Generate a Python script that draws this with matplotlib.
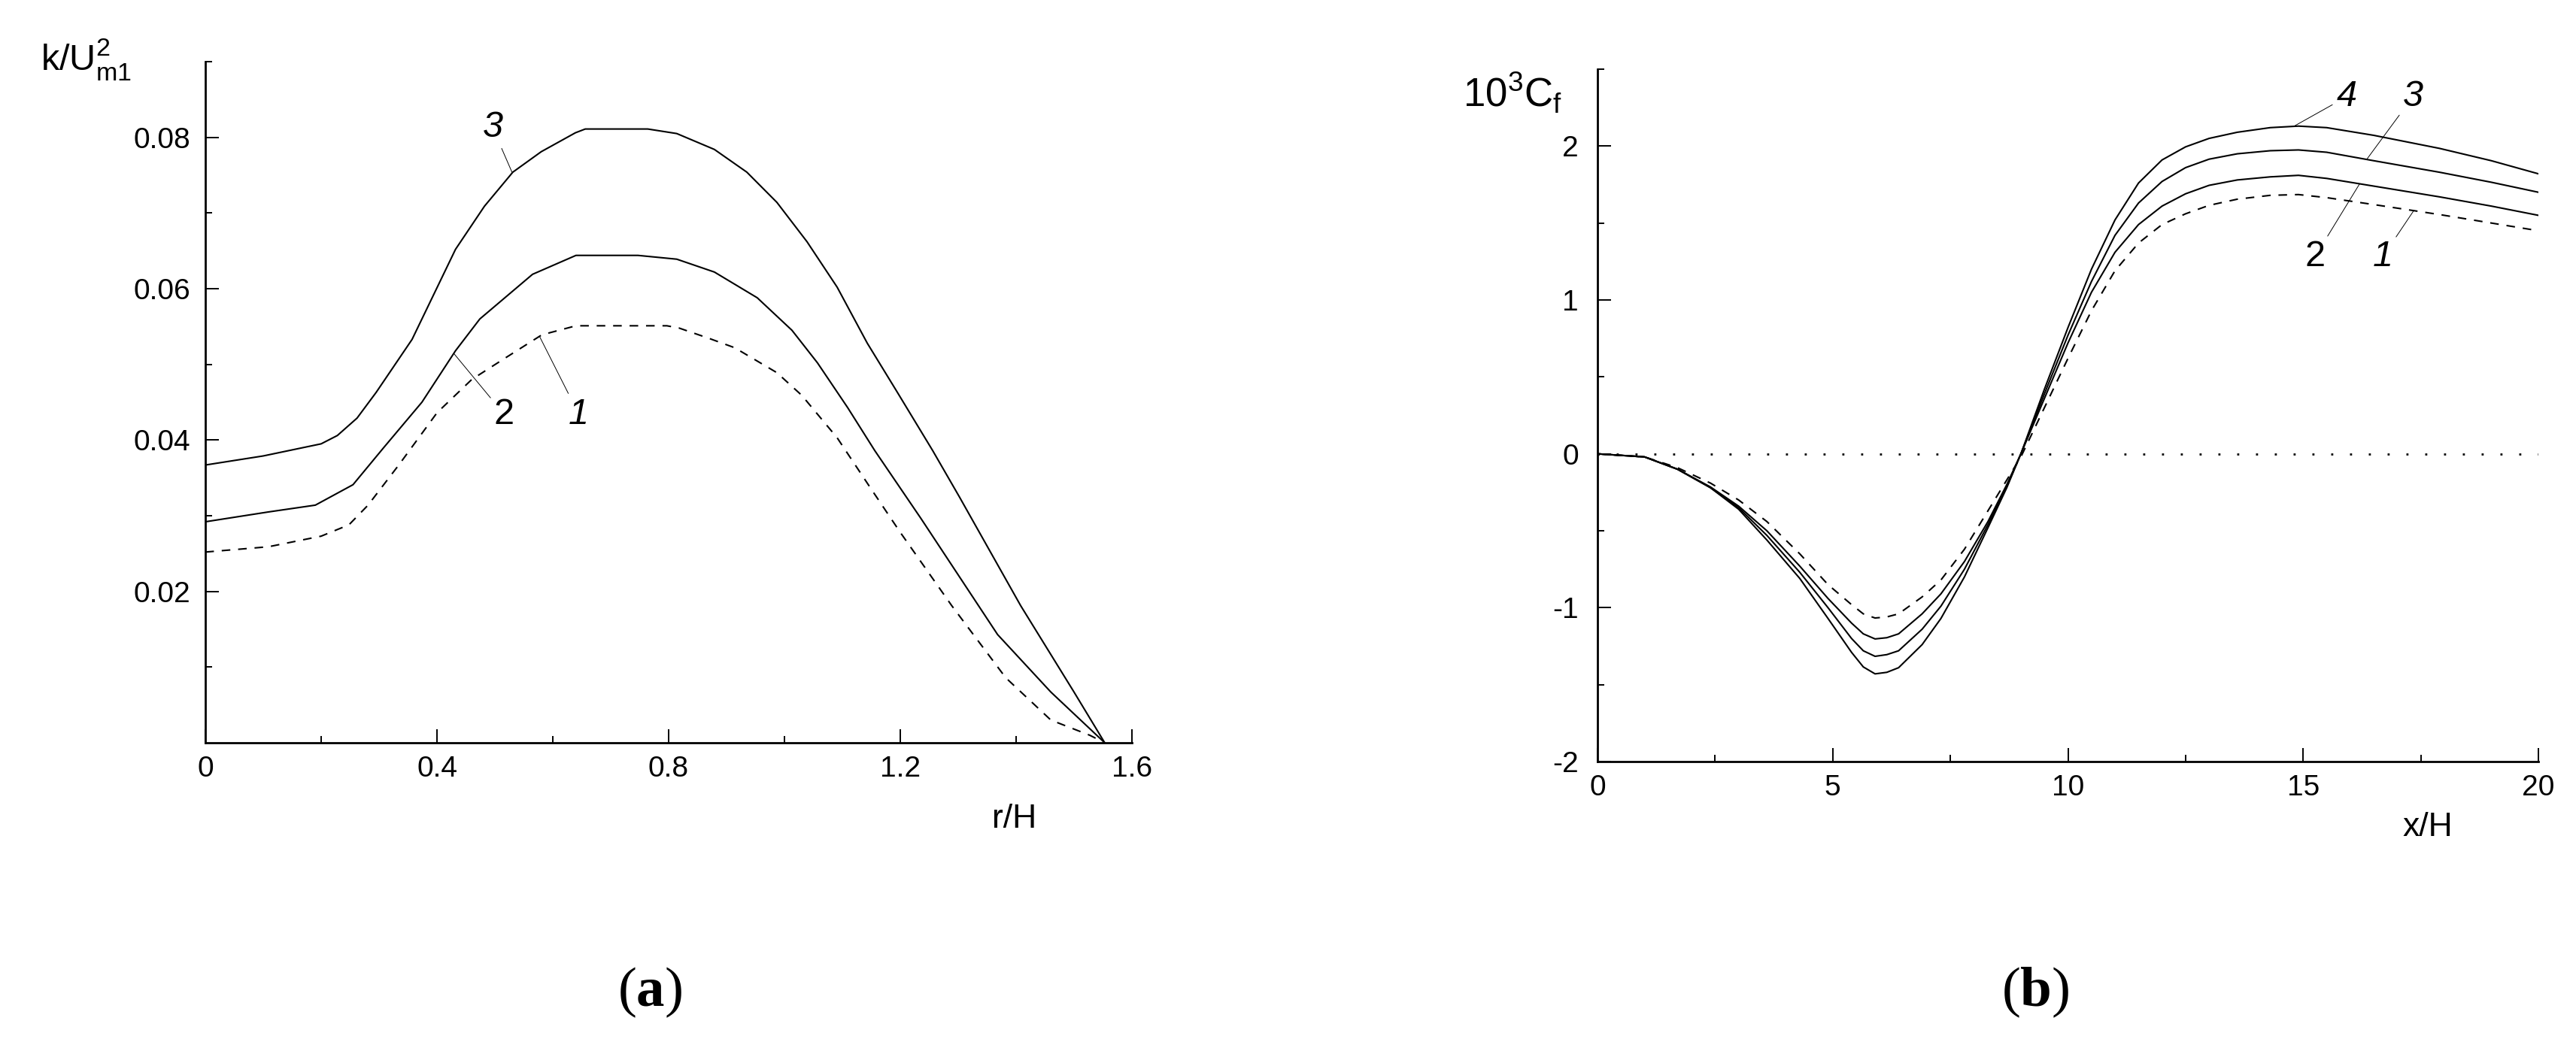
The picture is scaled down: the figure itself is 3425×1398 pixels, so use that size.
import numpy as np
import matplotlib
matplotlib.use('Agg')
import matplotlib.pyplot as plt

# ---- panel (a): k/U^2_m1 against r/H ----
r_1 = [0.0, 0.109, 0.20, 0.248, 0.281, 0.335, 0.40, 0.46, 0.515, 0.581, 0.64, 0.797,
       0.818, 0.871, 0.914, 0.987, 1.03, 1.091, 1.15, 1.20, 1.289, 1.382, 1.46, 1.527, 1.553]
k_1 = [0.0252, 0.0259, 0.0273, 0.0288, 0.0314, 0.0368, 0.0436, 0.0480, 0.0507, 0.0539, 0.0551, 0.0551,
       0.0548, 0.0534, 0.0522, 0.0489, 0.0459, 0.0403, 0.0335, 0.0278, 0.0181, 0.0086, 0.0030, 0.0010, 0.0]

r_2 = [0.0, 0.109, 0.19, 0.255, 0.308, 0.374, 0.432, 0.474, 0.565, 0.64, 0.747, 0.814,
       0.879, 0.953, 1.013, 1.057, 1.109, 1.156, 1.236, 1.368, 1.46, 1.553]
k_2 = [0.0292, 0.0305, 0.0314, 0.0341, 0.0390, 0.0450, 0.0518, 0.0560, 0.0619, 0.0644, 0.0644, 0.0639,
       0.0622, 0.0588, 0.0545, 0.0502, 0.0443, 0.0386, 0.0296, 0.0143, 0.0067, 0.0]

r_3 = [0.0, 0.1, 0.2, 0.228, 0.262, 0.295, 0.357, 0.432, 0.482, 0.531, 0.58, 0.639, 0.656,
       0.764, 0.814, 0.879, 0.935, 0.987, 1.039, 1.091, 1.143, 1.195, 1.256, 1.302, 1.408, 1.50, 1.553]
k_3 = [0.0367, 0.0379, 0.0395, 0.0406, 0.0429, 0.0463, 0.0533, 0.0652, 0.0709, 0.0754, 0.0781, 0.0806, 0.0811,
       0.0811, 0.0805, 0.0784, 0.0754, 0.0714, 0.0662, 0.0602, 0.0528, 0.0463, 0.0386, 0.0325, 0.0181, 0.0067, 0.0]

# ---- panel (b): 10^3 Cf against x/H ----
x_b = [0, 1.0, 1.7, 2.4, 3.0, 3.6, 4.3, 4.9, 5.4, 5.65, 5.9, 6.15, 6.4, 6.9, 7.3, 7.8, 8.3, 8.7,
       9.0, 9.5, 10.0, 10.5, 11.0, 11.5, 12.0, 12.5, 13.0, 13.6, 14.3, 14.9, 15.5, 16.5, 17.9, 19.0, 20.0]
cf_1 = [0, -0.02, -0.09, -0.19, -0.30, -0.44, -0.65, -0.85, -0.98, -1.04, -1.067, -1.06, -1.04, -0.93, -0.82,
        -0.62, -0.37, -0.17, -0.02, 0.30, 0.62, 0.93, 1.19, 1.37, 1.49, 1.56, 1.615, 1.655, 1.68, 1.685,
        1.665, 1.62, 1.555, 1.50, 1.45]
cf_2 = [0, -0.02, -0.10, -0.215, -0.34, -0.50, -0.73, -0.94, -1.10, -1.17, -1.203, -1.195, -1.17, -1.04, -0.91,
        -0.70, -0.44, -0.20, 0.0, 0.36, 0.72, 1.05, 1.31, 1.49, 1.61, 1.69, 1.745, 1.78, 1.80, 1.81,
        1.79, 1.74, 1.67, 1.61, 1.55]
cf_3 = [0, -0.02, -0.10, -0.22, -0.35, -0.53, -0.77, -1.00, -1.20, -1.28, -1.316, -1.305, -1.28, -1.14, -0.99,
        -0.75, -0.46, -0.21, 0.0, 0.39, 0.77, 1.12, 1.42, 1.63, 1.77, 1.86, 1.915, 1.95, 1.97, 1.975,
        1.96, 1.905, 1.83, 1.765, 1.70]
cf_4 = [0, -0.02, -0.10, -0.22, -0.36, -0.56, -0.81, -1.07, -1.29, -1.385, -1.43, -1.42, -1.39, -1.24, -1.07,
        -0.80, -0.48, -0.22, 0.0, 0.42, 0.82, 1.20, 1.52, 1.76, 1.91, 1.995, 2.05, 2.09, 2.12, 2.13,
        2.12, 2.07, 1.985, 1.905, 1.82]

plt.rcParams['font.family'] = ['Liberation Sans', 'DejaVu Sans']
plt.rcParams['axes.unicode_minus'] = False
plt.rcParams['mathtext.fontset'] = 'custom'
plt.rcParams['mathtext.rm'] = 'Liberation Serif'
plt.rcParams['mathtext.bf'] = 'Liberation Serif:bold'

W, H = 3425, 1398
LW = 1.5
DASH = (0, (5.5, 5))


def style_axes(ax, ypad):
    ax.spines['top'].set_visible(False)
    ax.spines['right'].set_visible(False)
    ax.spines['left'].set_linewidth(2)
    ax.spines['bottom'].set_linewidth(2)
    ax.tick_params(which='both', direction='in', width=1.4, labelsize=28,
                   top=False, right=False)
    ax.tick_params(which='major', length=13)
    ax.tick_params(which='minor', length=6.5)
    ax.tick_params(axis='x', which='both', pad=12)
    ax.tick_params(axis='y', which='both', pad=ypad)


def pointer(ax, text, xy, xytext, italic=True):
    ax.annotate(text, xy=xy, xytext=xytext, fontsize=35,
                fontstyle='italic' if italic else 'normal',
                ha='center', va='center',
                arrowprops=dict(arrowstyle='-', lw=0.7, color='k',
                                shrinkA=2, shrinkB=0))


def panel_a(fig):
    ax = fig.add_axes([273 / W, 1 - 988 / H, 1232 / W, 906 / H])
    ax.plot(r_1, k_1, color='k', lw=LW, linestyle=DASH)
    ax.plot(r_2, k_2, color='k', lw=LW)
    ax.plot(r_3, k_3, color='k', lw=LW)

    ax.set_xlim(0, 1.6)
    ax.set_ylim(0, 0.09)
    ax.set_xticks([0, 0.4, 0.8, 1.2, 1.6])
    ax.set_xticklabels(['0', '0.4', '0.8', '1.2', '1.6'])
    ax.set_xticks([0.2, 0.6, 1.0, 1.4], minor=True)
    ax.set_yticks([0.02, 0.04, 0.06, 0.08])
    ax.set_yticklabels(['0.02', '0.04', '0.06', '0.08'])
    ax.set_yticks([0.01, 0.03, 0.05, 0.07, 0.09], minor=True)
    style_axes(ax, 14)

    ax.set_xlabel('r/H', fontsize=32, va='baseline')
    ax.xaxis.set_label_coords(0.873, -0.1247)
    ax.set_ylabel(r'k/U$_{\mathregular{m1}}^{\mathregular{2}}$', fontsize=35,
                  rotation=0, ha='left', va='baseline')
    ax.yaxis.set_label_coords(-0.178, 0.9857)

    pointer(ax, '3', (0.53, np.interp(0.53, r_3, k_3)), (0.496, 0.0813))
    pointer(ax, '2', (0.429, np.interp(0.429, r_2, k_2)), (0.516, 0.0434), italic=False)
    pointer(ax, '1', (0.577, np.interp(0.577, r_1, k_1)), (0.645, 0.0434))


def panel_b(fig):
    ax = fig.add_axes([2124 / W, 1 - 1013 / H, 1251 / W, 921 / H])
    ax.axhline(0, color='k', lw=2, linestyle=(0, (1, 8)))
    ax.plot(x_b, cf_1, color='k', lw=LW, linestyle=DASH)
    ax.plot(x_b, cf_2, color='k', lw=LW)
    ax.plot(x_b, cf_3, color='k', lw=LW)
    ax.plot(x_b, cf_4, color='k', lw=LW)

    ax.set_xlim(0, 20)
    ax.set_ylim(-2, 2.5)
    ax.set_xticks([0, 5, 10, 15, 20])
    ax.set_xticks([2.5, 7.5, 12.5, 17.5], minor=True)
    ax.set_yticks([-2, -1, 0, 1, 2])
    ax.set_yticks([-1.5, -0.5, 0.5, 1.5, 2.5], minor=True)
    style_axes(ax, 18)

    ax.set_xlabel('x/H', fontsize=32, va='baseline')
    ax.xaxis.set_label_coords(0.882, -0.1075)
    ax.set_ylabel(r'10$^{\mathregular{3}}$C$_{\mathregular{f}}$', fontsize=38,
                  rotation=0, ha='left', va='baseline')
    ax.yaxis.set_label_coords(-0.143, 0.9457)

    pointer(ax, '4', (14.8, np.interp(14.8, x_b, cf_4)), (15.92, 2.32))
    pointer(ax, '3', (16.35, np.interp(16.35, x_b, cf_3)), (17.33, 2.32))
    pointer(ax, '2', (16.2, np.interp(16.2, x_b, cf_2)), (15.25, 1.28), italic=False)
    pointer(ax, '1', (17.35, np.interp(17.35, x_b, cf_1)), (16.69, 1.28))


def main():
    fig = plt.figure(figsize=(W / 100, H / 100), dpi=100)
    panel_a(fig)
    panel_b(fig)
    fig.text(864 / W, 1 - 1320 / H, r'$\mathrm{(}\mathbf{a}\mathrm{)}$',
             ha='center', va='center', fontsize=54)
    fig.text(2706 / W, 1 - 1320 / H, r'$\mathrm{(}\mathbf{b}\mathrm{)}$',
             ha='center', va='center', fontsize=54)
    fig.savefig('out.png', dpi=100)


if __name__ == "__main__": main()
